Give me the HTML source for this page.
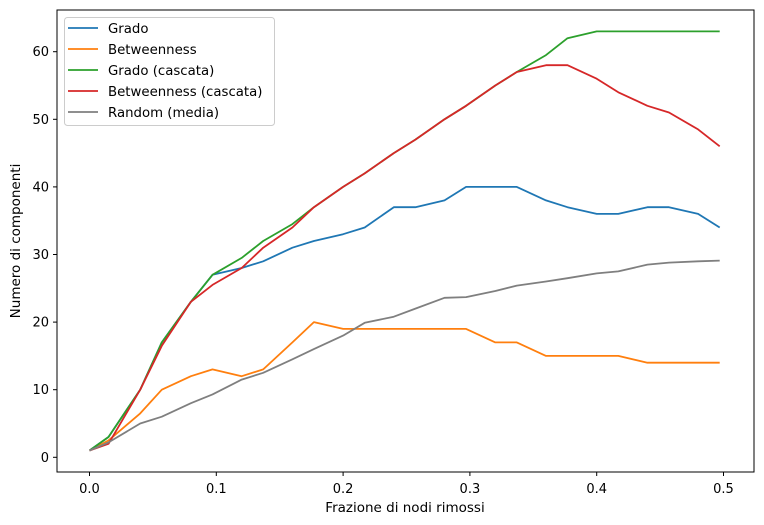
<!DOCTYPE html>
<html><head><meta charset="utf-8"><style>
body{margin:0;background:#fff;}
svg{display:block;font-family:"DejaVu Sans","Liberation Sans",sans-serif;}
</style></head><body>
<svg id="chart" width="764" height="525"></svg>
<script>
const xs=[0,0.015,0.04,0.057,0.08,0.097,0.12,0.137,0.16,0.177,0.2,0.217,0.24,0.257,0.28,0.297,0.32,0.337,0.36,0.377,0.4,0.417,0.44,0.457,0.48,0.497];
const grado=[1,3,10,17,23,27,28,29,31,32,33,34,37,37,38,40,40,40,38,37,36,36,37,37,36,34];
const betw=[1,2.5,6.5,10,12,13,12,13,17,20,19,19,19,19,19,19,17,17,15,15,15,15,14,14,14,14];
const gradoC=[1,3,10,17,23,27,29.5,32,34.5,37,40,42,45,47,50,52,55,57,59.5,62,63,63,63,63,63,63];
const betwC=[1,2,10,16.5,23,25.5,28,31,34,37,40,42,45,47,50,52,55,57,58,58,56,54,52,51,48.5,46];
const rand=[1,2.2,5,6,8,9.3,11.5,12.5,14.5,16,18,19.9,20.8,22,23.6,23.7,24.6,25.4,26,26.5,27.2,27.5,28.5,28.8,29,29.1];
const xTicks=[0,0.1,0.2,0.3,0.4,0.5];
const xTickLabels=["0.0","0.1","0.2","0.3","0.4","0.5"];
const yTicks=[0,10,20,30,40,50,60];
const seriesNames=["Grado","Betweenness","Grado (cascata)","Betweenness (cascata)","Random (media)"];
const colors=["#1f77b4","#ff7f0e","#2ca02c","#d62728","#7f7f7f"];

const X=v=>89.5+v*1268;
const Y=v=>457.3-v*6.76;
const svg=document.getElementById('chart');
const NS='http://www.w3.org/2000/svg';
function mk(t,a,p){const e=document.createElementNS(NS,t);for(const k in a)e.setAttribute(k,a[k]);(p||svg).appendChild(e);return e;}

const frame=mk('rect',{x:57,y:10,width:697,height:462,fill:'none',stroke:'#000','stroke-width':1});



xTicks.forEach((t,i)=>{
  const l=mk('line',{x1:X(t),x2:X(t),y1:472,y2:476,stroke:'#000'});
  
  
  const tx=mk('text',{x:X(t),y:493,'font-size':13,'text-anchor':'middle',fill:'#000'});
  tx.textContent=xTickLabels[i];
  
  
});
yTicks.forEach(t=>{
  const l=mk('line',{x1:53,x2:57,y1:Y(t),y2:Y(t),stroke:'#000'});
  
  
  const tx=mk('text',{x:49,y:Y(t)+4.5,'font-size':13,'text-anchor':'end',fill:'#000'});
  tx.textContent=String(t);
  
  
});

const all=[grado,betw,gradoC,betwC,rand];
const snames=['series-grado','series-betweenness','series-grado-cascata','series-betweenness-cascata','series-random'];
all.forEach((s,i)=>{
  const d=s.map((v,j)=>(j?'L':'M')+X(xs[j]).toFixed(1)+' '+Y(v).toFixed(1)).join(' ');
  const p=mk('path',{d:d,fill:'none',stroke:colors[i],'stroke-width':1.8,'stroke-linejoin':'round'});
  
  
});

const lg=mk('g',{});


mk('rect',{x:64.5,y:17.5,width:210,height:108,rx:3,fill:'#fff','fill-opacity':0.8,stroke:'#ccc'},lg);
seriesNames.forEach((n,i)=>{
  const yy=28+i*21;
  const e=mk('g',{},lg);
  
  
  mk('line',{x1:68,x2:98,y1:yy,y2:yy,stroke:colors[i],'stroke-width':1.8},e);
  const t=mk('text',{x:108,y:yy+5,'font-size':13.3,fill:'#000'},e);
  t.textContent=n;
});

const xl=mk('text',{x:405,y:512,'font-size':13.5,'text-anchor':'middle',fill:'#000'});
xl.textContent='Frazione di nodi rimossi';


const yl=mk('text',{x:0,y:0,'font-size':13.5,'text-anchor':'middle',fill:'#000',transform:'translate(20,241) rotate(-90)'});
yl.textContent='Numero di componenti';


</script>
</body></html>
